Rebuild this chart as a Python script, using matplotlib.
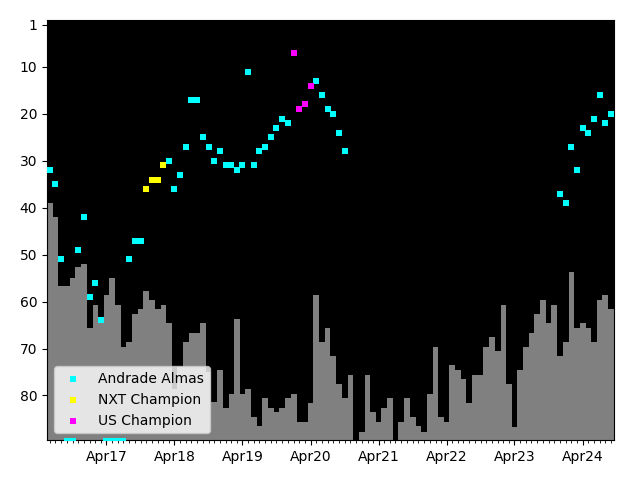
import numpy as np
import pandas as pd
import matplotlib
matplotlib.use("Agg")
import matplotlib.pyplot as plt
import matplotlib.dates as mdates

nan = np.nan
B = 89.8  # off the bottom of the chart

months = pd.date_range("2016-06-01", periods=100, freq="MS")

bars = [39.0, 41.9, 56.7, 56.7, 55.0, 52.7, 51.9, 65.6, 60.8, 63.8,
        58.7, 55.0, 60.8, 69.7, 68.7, 62.7, 61.6, 57.8, 59.7, 61.6,
        60.8, 64.6, 78.6, 74.0, 68.7, 66.8, 66.8, 64.6, 75.0, 81.5,
        74.6, 82.7, 79.7, 63.8, 79.7, 78.6, 84.7, 86.5, 80.6, 82.7,
        83.5, 82.7, 80.6, 79.7, 85.6, 85.6, 81.6, 58.7, 68.7, 65.7,
        71.6, 77.6, 80.6, 75.7, nan, 87.7, 75.7, 83.5, 85.6, 82.7,
        80.6, nan, 85.6, 80.6, 84.7, 86.5, 87.7, 79.7, 69.7, 84.7,
        85.6, 73.5, 74.6, 76.6, 81.6, 75.7, 75.7, 69.7, 67.6, 70.6,
        60.8, 77.6, 86.7, 74.6, 69.7, 66.8, 62.7, 59.7, 64.6, 60.8,
        71.6, 68.7, 53.8, 65.7, 64.6, 65.7, 68.7, 59.7, 58.7, 61.6]

andrade = [32, 35, 51, B, B, 49, 42, 59, 56, 64,
           B, B, B, B, 51, 47, 47, nan, nan, nan,
           nan, 30, 36, 33, 27, 17, 17, 25, 27, 30,
           28, 31, 31, 32, 31, 11, 31, 28, 27, 25,
           23, 21, 22, nan, nan, nan, nan, 13, 16, 19,
           20, 24, 28] + [nan] * 37 + [37, 39, 27, 32, 23, 24, 21, 16, 22, 20]

nxt = [nan] * 17 + [36, 34, 34, 31] + [nan] * 79
us = [nan] * 43 + [7, 19, 18, 14] + [nan] * 53

bars = np.array(bars, dtype=float)
fig, ax = plt.subplots(figsize=(6.4, 4.8), dpi=100)
ax.set_facecolor("black")

ax.bar(months, 100 - bars, bottom=bars, width=31, color="gray", zorder=1)
ax.scatter(months, andrade, marker="s", s=15, linewidths=0, color="cyan",
           label="Andrade Almas", zorder=3)
ax.scatter(months, nxt, marker="s", s=15, linewidths=0, color="yellow",
           label="NXT Champion", zorder=3)
ax.scatter(months, us, marker="s", s=15, linewidths=0, color="magenta",
           label="US Champion", zorder=3)

half = pd.Timedelta(days=15.5)
ax.set_xlim(months[0] - half, months[-1] + half)
ax.set_ylim(89.5, 0)
ax.set_yticks([1, 10, 20, 30, 40, 50, 60, 70, 80])

ax.xaxis.set_major_locator(mdates.MonthLocator(bymonth=4))
ax.xaxis.set_major_formatter(mdates.DateFormatter("%b%y"))
ax.xaxis.set_minor_locator(mdates.MonthLocator())

ax.legend(loc="lower left")
fig.subplots_adjust(left=0.0734, right=0.9594, top=0.9583, bottom=0.0833)
fig.savefig("out.png")
